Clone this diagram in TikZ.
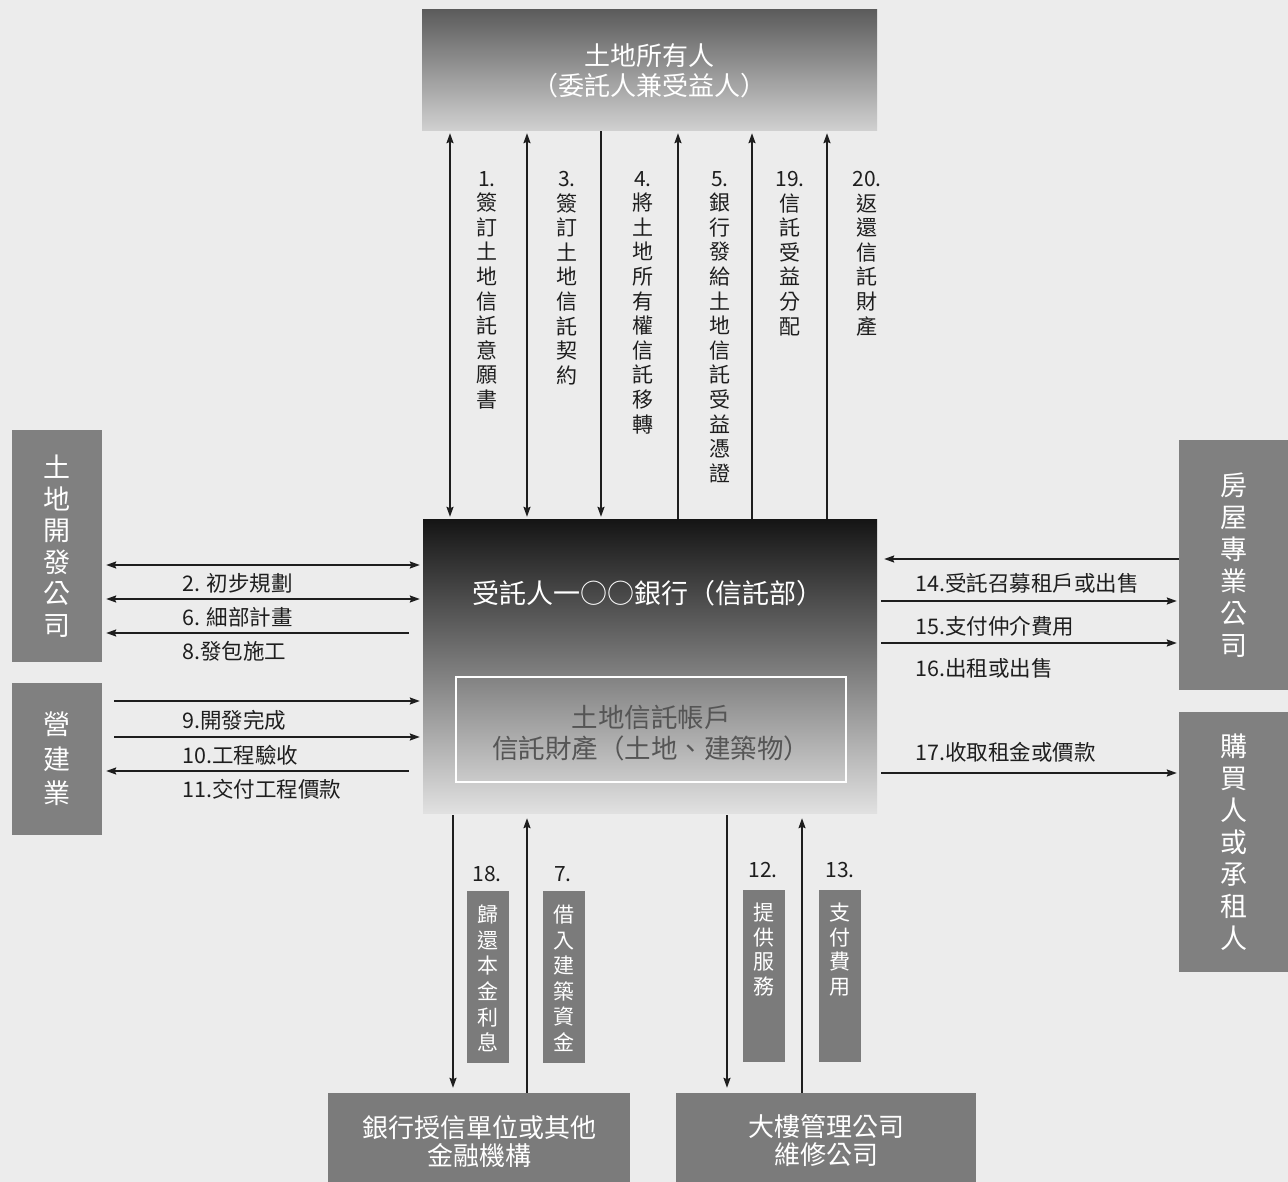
\documentclass[tikz,border=0pt]{standalone}
\usepackage{fontspec}
\setmainfont{Noto Sans CJK TC}
\usetikzlibrary{arrows.meta}
\definecolor{paper}{HTML}{ECECEC}
\definecolor{boxgray}{HTML}{808080}
\definecolor{darkbox}{HTML}{7B7B7B}
\definecolor{inktext}{HTML}{1E1E1E}
\definecolor{acctext}{HTML}{555555}
\begin{document}
\begin{tikzpicture}[x=1pt,y=-1pt,
  box/.style={fill=boxgray, text=white, inner sep=0pt, align=center, draw=none},
  sidefont/.style={font=\fontsize{27}{32}\selectfont},
  vlab/.style={font=\fontsize{21}{24.6}\selectfont, align=center, inner sep=0pt, anchor=north, text=inktext},
  hlab/.style={font=\fontsize{21.5}{24}\selectfont, inner sep=0pt, anchor=west, text=inktext},
  numlab/.style={font=\fontsize{21}{24}\selectfont, inner sep=0pt, text=inktext},
  boxtext/.style={inner sep=0pt, text=white, align=center, font=\fontsize{26}{28}\selectfont},
  conn/.style={line width=1.8pt, draw=inktext},
  fwd/.style={conn, -{Stealth[length=10pt,width=7pt,inset=1.5pt]}},
  both/.style={conn, {Stealth[length=10pt,width=7pt,inset=1.5pt]}-{Stealth[length=10pt,width=7pt,inset=1.5pt]}},
  lbox/.style={fill=darkbox, text=white, inner sep=0pt, minimum width=42pt, minimum height=172pt}
]
\useasboundingbox (0,0) rectangle (1288,1182);
\fill[paper] (0,0) rectangle (1288,1182);

% main boxes
\node[inner sep=0pt, minimum width=455pt, minimum height=121pt, top color=black!64, bottom color=black!18, text=white, align=center, font=\fontsize{26}{30}\selectfont] (owner) at (649.5,70.5) {土地所有人\\（委託人兼受益人）};

\node[inner sep=0pt, minimum width=454pt, minimum height=294pt, top color=black!92, middle color=black!45, bottom color=black!12] (trust) at (650,666) {};
\node[inner sep=0pt, text=white, font=\fontsize{27}{30}\selectfont] (trustlbl) at (648,593) {受託人一○○銀行（信託部）};
\node[draw=white, line width=2pt, inner sep=0pt, minimum width=390pt, minimum height=105pt] (acct) at (651,729.5) {};
\node[inner sep=0pt, text=acctext, align=center, font=\fontsize{26.5}{31}\selectfont] (accttxt) at (651,733.5) {土地信託帳戶\\信託財產（土地、建築物）};

\node[box, sidefont, minimum width=90pt, minimum height=232pt, font=\fontsize{27}{31.5}\selectfont] (dev) at (57,546) {土\\地\\開\\發\\公\\司};
\node[box, sidefont, minimum width=90pt, minimum height=152pt, font=\fontsize{27}{34.5}\selectfont] (constr) at (57,759) {營\\建\\業};
\node[box, sidefont, minimum width=109pt, minimum height=250pt] (agent) at (1233.5,565) {房\\屋\\專\\業\\公\\司};
\node[box, sidefont, minimum width=109pt, minimum height=260pt] (buyer) at (1233.5,842) {購\\買\\人\\或\\承\\租\\人};

\node[box, fill=darkbox, minimum width=302pt, minimum height=89pt] (bank) at (479,1137.5) {};
\node[boxtext] (banktxt) at (479,1142) {銀行授信單位或其他\\金融機構};
\node[box, fill=darkbox, minimum width=300pt, minimum height=89pt] (mgmt) at (826,1137.5) {};
\node[boxtext] (mgmttxt) at (826,1140.5) {大樓管理公司\\維修公司};

% label boxes at the bottom
\node[lbox] (b18) at (488,977) {\parbox[c][164pt][t]{30pt}{\centering\fontsize{21}{25.6}\selectfont \vspace*{10pt}歸\\還\\本\\金\\利\\息}};
\node[lbox] (b7) at (563.5,977) {\parbox[c][164pt][t]{30pt}{\centering\fontsize{21}{25.6}\selectfont \vspace*{10pt}借\\入\\建\\築\\資\\金}};
\node[lbox] (b12) at (763.5,976) {\parbox[c][164pt][t]{30pt}{\centering\fontsize{21}{24.6}\selectfont \vspace*{9pt}提\\供\\服\\務}};
\node[lbox] (b13) at (839.5,976) {\parbox[c][164pt][t]{30pt}{\centering\fontsize{21}{24.6}\selectfont \vspace*{9pt}支\\付\\費\\用}};
\node[numlab] (n18) at (487,874) {18.};
\node[numlab] (n7) at (563,874) {7.};
\node[numlab] (n12) at (763,870) {12.};
\node[numlab] (n13) at (840,870) {13.};

% column coordinates
\coordinate (c1) at (450,0);
\coordinate (c3) at (527,0);
\coordinate (c4) at (601,0);
\coordinate (c5) at (678,0);
\coordinate (c19) at (752,0);
\coordinate (c20) at (827,0);
\coordinate (c18) at (453,0);
\coordinate (c7) at (527,0);
\coordinate (c12) at (727,0);
\coordinate (c13) at (802,0);
% row coordinates
\coordinate (r2) at (0,565);
\coordinate (r6) at (0,599);
\coordinate (r8) at (0,633);
\coordinate (r9) at (0,701);
\coordinate (r10) at (0,737);
\coordinate (r11) at (0,771);
\coordinate (r14) at (0,559);
\coordinate (r15) at (0,601);
\coordinate (r16) at (0,643);
\coordinate (r17) at (0,773);

% top vertical connectors
\draw[both, shorten <=2pt, shorten >=2pt] (owner.south -| c1) -- (trust.north -| c1);
\draw[both, shorten <=2pt, shorten >=2pt] (owner.south -| c3) -- (trust.north -| c3);
\draw[fwd, shorten >=2pt] (owner.south -| c4) -- (trust.north -| c4);
\draw[fwd, shorten >=2pt] (trust.north -| c5) -- (owner.south -| c5);
\draw[fwd, shorten >=2pt] (trust.north -| c19) -- (owner.south -| c19);
\draw[fwd, shorten >=2pt] (trust.north -| c20) -- (owner.south -| c20);

\node[vlab] (l1) at (487,171) {1.\\簽\\訂\\土\\地\\信\\託\\意\\願\\書};
\node[vlab] (l3) at (567,171) {3.\\簽\\訂\\土\\地\\信\\託\\契\\約};
\node[vlab] (l4) at (643,171) {4.\\將\\土\\地\\所\\有\\權\\信\\託\\移\\轉};
\node[vlab] (l5) at (720,171) {5.\\銀\\行\\發\\給\\土\\地\\信\\託\\受\\益\\憑\\證};
\node[vlab] (l19) at (790,171) {19.\\信\\託\\受\\益\\分\\配};
\node[vlab] (l20) at (867,171) {20.\\返\\還\\信\\託\\財\\產};

% left horizontal connectors
\draw[both, shorten <=4pt, shorten >=3pt] (dev.east |- r2) -- (trust.west |- r2);
\draw[both, shorten <=4pt, shorten >=3pt] (dev.east |- r6) -- (trust.west |- r6);
\draw[fwd, shorten <=14pt, shorten >=4pt] (trust.west |- r8) -- (dev.east |- r8);
\draw[fwd, shorten <=12pt, shorten >=3pt] (constr.east |- r9) -- (trust.west |- r9);
\draw[fwd, shorten <=12pt, shorten >=3pt] (constr.east |- r10) -- (trust.west |- r10);
\draw[fwd, shorten <=14pt, shorten >=4pt] (trust.west |- r11) -- (constr.east |- r11);

\node[hlab] (l2) at (182,583) {2. 初步規劃};
\node[hlab] (l6) at (182,617) {6. 細部計畫};
\node[hlab] (l8) at (182,651) {8.發包施工};
\node[hlab] (l9) at (182,720) {9.開發完成};
\node[hlab] (l10) at (182,755) {10.工程驗收};
\node[hlab] (l11) at (182,789) {11.交付工程價款};

% right horizontal connectors
\draw[fwd, shorten >=7pt] (agent.west |- r14) -- (trust.east |- r14);
\draw[fwd, shorten <=4pt, shorten >=2pt] (trust.east |- r15) -- (agent.west |- r15);
\draw[fwd, shorten <=4pt, shorten >=2pt] (trust.east |- r16) -- (agent.west |- r16);
\draw[fwd, shorten <=4pt, shorten >=2pt] (trust.east |- r17) -- (buyer.west |- r17);

\node[hlab] (l14) at (915,583) {14.受託召募租戶或出售};
\node[hlab] (l15) at (915,626) {15.支付仲介費用};
\node[hlab] (l16) at (915,668) {16.出租或出售};
\node[hlab] (l17) at (915,752) {17.收取租金或價款};

% bottom vertical connectors
\draw[fwd, shorten <=2pt, shorten >=5pt] (trust.south -| c18) -- (bank.north -| c18);
\draw[fwd, shorten >=5pt] (bank.north -| c7) -- (trust.south -| c7);
\draw[fwd, shorten <=2pt, shorten >=5pt] (trust.south -| c12) -- (mgmt.north -| c12);
\draw[fwd, shorten >=5pt] (mgmt.north -| c13) -- (trust.south -| c13);
\end{tikzpicture}
\end{document}
